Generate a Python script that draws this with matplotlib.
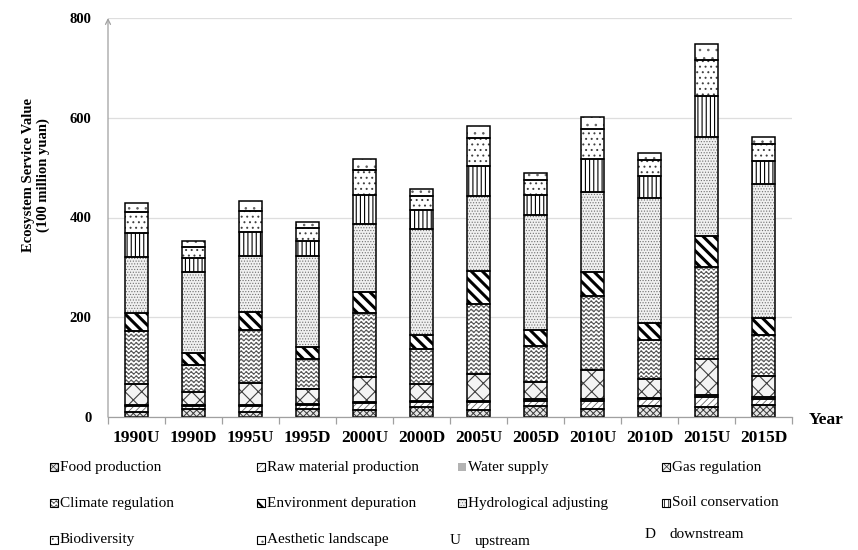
import warnings
import numpy as np
import matplotlib
matplotlib.use("Agg")
import matplotlib.pyplot as plt
from matplotlib import hatch as mhatch
from matplotlib.path import Path
from matplotlib.patches import Rectangle

warnings.filterwarnings("ignore")

# ---- data (100 million yuan) ----
categories = ['1990U', '1990D', '1995U', '1995D', '2000U', '2000D',
              '2005U', '2005D', '2010U', '2010D', '2015U', '2015D']
food = [9.4, 15.4, 9.4, 16.0, 14.0, 19.4, 14.0, 22.1, 16.0, 22.7, 19.4, 24.1]
raw_material = [12.6, 6.6, 12.6, 7.4, 13.4, 10.0, 16.1, 10.6, 16.7, 12.7, 21.4, 12.7]
water_supply = [2.7, 1.4, 2.7, 2.7, 3.3, 2.7, 2.6, 2.7, 3.4, 2.0, 3.3, 4.0]
gas_regulation = [41.5, 26.7, 42.8, 30.0, 50.2, 34.1, 54.2, 35.4, 57.5, 39.5, 72.2, 40.7]
climate_regulation = [106.8, 54.8, 106.9, 59.5, 128.3, 69.5, 139.0, 72.2, 148.3, 77.5, 185.1, 82.2]
environment_depuration = [34.9, 22.8, 35.5, 24.1, 42.1, 28.7, 67.5, 30.8, 48.8, 33.4, 60.8, 35.5]
hydrological_adjusting = [112.2, 162.4, 112.3, 182.6, 135.7, 213.2, 149.0, 231.9, 160.4, 252.0, 198.5, 268.6]
soil_conservation = [48.2, 28.0, 48.1, 31.3, 57.4, 36.8, 61.5, 38.7, 66.9, 42.7, 82.2, 44.8]
biodiversity = [42.1, 22.8, 42.1, 24.8, 50.8, 28.7, 54.8, 30.8, 59.4, 32.1, 73.6, 34.1]
aesthetic_landscape = [19.3, 11.3, 20.0, 12.0, 22.1, 14.7, 24.1, 14.0, 24.8, 15.4, 32.0, 15.4]

series_names = ['Food production', 'Raw material production', 'Water supply',
                'Gas regulation', 'Climate regulation', 'Environment depuration',
                'Hydrological adjusting', 'Soil conservation', 'Biodiversity',
                'Aesthetic landscape']
series_values = [food, raw_material, water_supply, gas_regulation,
                 climate_regulation, environment_depuration,
                 hydrological_adjusting, soil_conservation, biodiversity,
                 aesthetic_landscape]


# ---- a wavy hatch pattern, triggered by '~' ----
class WaveHatch(mhatch.HatchPatternBase):
    def __init__(self, hatch, density):
        self.num_lines = int(hatch.count('~') * density)
        self.pts = 161
        self.num_vertices = self.num_lines * self.pts

    def set_vertices_and_codes(self, vertices, codes):
        if self.num_lines == 0:
            return
        t = np.linspace(0.0, 1.0, self.pts)
        amp = 0.35 / self.num_lines
        for i in range(self.num_lines):
            y = (i + 0.5) / self.num_lines
            sl = slice(i * self.pts, (i + 1) * self.pts)
            vertices[sl, 0] = t
            vertices[sl, 1] = y + amp * np.sin(2 * np.pi * 20 * t)
            codes[sl] = Path.LINETO
            codes[i * self.pts] = Path.MOVETO


mhatch._hatch_types.append(WaveHatch)

# (facecolor, hatch, hatch colour, hatch linewidth) per service
styles = [
    ('#e6e6e6', 'xxxxx', '#3a3a3a', 0.7),  # food
    ('white', '/////', '#6a6a6a', 0.6),    # raw material
    ('#b3b3b3', None, '#b3b3b3', 0.5),     # water supply
    ('#f4f4f4', 'xx', '#404040', 0.8),     # gas regulation
    ('white', '~~~~', '#505050', 0.6),     # climate regulation
    ('white', '\\\\\\', 'black', 2.2),     # environment depuration
    ('#f0f0f0', '......', '#707070', 0.5), # hydrological adjusting
    ('white', '||||', 'black', 0.8),       # soil conservation
    ('white', '...', '#404040', 0.7),      # biodiversity
    ('white', '..', '#606060', 0.6),       # aesthetic landscape
]

plt.rcParams['font.family'] = ['Liberation Serif', 'DejaVu Serif']

W, H = 858, 550
fig = plt.figure(figsize=(W / 100, H / 100), dpi=100)
ax = fig.add_axes([108 / W, 1 - 417 / H, (792 - 108) / W, (417 - 18) / H])

x = np.arange(len(categories))
bar_w = 0.4
bottom = np.zeros(len(categories))
for vals, (fc, hatch, hc, hlw) in zip(series_values, styles):
    vals = np.asarray(vals, dtype=float)
    with plt.rc_context({'hatch.linewidth': hlw}):
        bars = ax.bar(x, vals, bar_w, bottom=bottom, color=fc,
                      edgecolor=hc, linewidth=0, hatch=hatch, zorder=2)
    for b in bars:
        if hasattr(b, 'set_hatch_linewidth'):
            b.set_hatch_linewidth(hlw)
    ax.bar(x, vals, bar_w, bottom=bottom, fill=False, edgecolor='black',
           linewidth=1.1, zorder=3)
    bottom += vals

# axes styling
ax.set_xlim(-0.5, len(categories) - 0.5)
ax.set_ylim(0, 800)
ax.set_yticks([0, 200, 400, 600, 800])
ax.yaxis.grid(True, color='#dedede', linewidth=0.9, zorder=0)
ax.set_axisbelow(True)
for s in ['top', 'right', 'left']:
    ax.spines[s].set_visible(False)
ax.spines['bottom'].set_color('#a0a0a0')
ax.spines['bottom'].set_linewidth(0.9)
ax.spines['bottom'].set_zorder(4)

ax.set_xticks(x)
ax.set_xticklabels(categories, fontsize=12.5, fontweight='bold')
ax.set_xticks(np.arange(-0.5, len(categories), 1.0), minor=True)
ax.tick_params(axis='x', which='major', length=0, pad=9)
ax.tick_params(axis='x', which='minor', length=5, color='#a0a0a0', width=0.9)
ax.tick_params(axis='y', length=0, pad=12, labelsize=10.5)
for lab in ax.get_yticklabels():
    lab.set_fontweight('bold')

# y axis drawn as an arrow
ax.annotate('', xy=(0, 1.0), xytext=(0, 0), xycoords='axes fraction',
            textcoords='axes fraction',
            arrowprops=dict(arrowstyle='->', color='#a0a0a0', lw=0.9,
                            shrinkA=0, shrinkB=0, mutation_scale=9))

fig.text(36 / W, 1 - 175 / H, 'Ecosystem Service Value\n(100 million yuan)',
         rotation=90, ha='center', va='center', fontsize=10.5,
         fontweight='bold', linespacing=1.15)
fig.text(826 / W, 1 - 420 / H, 'Year', ha='center', va='center',
         fontsize=12.5, fontweight='bold')

# ---- legend grid below the plot ----
col_x = [50, 257, 458, 662]
row_y = [467, 503, 540]
for i, (name, (fc, hatch, hc, hlw)) in enumerate(zip(series_names, styles)):
    r, c = divmod(i, 4)
    px, py = col_x[c], row_y[r]
    with plt.rc_context({'hatch.linewidth': hlw * 0.7}):
        sq = Rectangle((px / W, 1 - (py + 4) / H), 8 / W, 8 / H,
                       transform=fig.transFigure, facecolor=fc,
                       edgecolor=hc, linewidth=0, hatch=hatch)
    fig.add_artist(sq)
    if hatch is not None:
        fig.add_artist(Rectangle((px / W, 1 - (py + 4) / H), 8 / W, 8 / H,
                                 transform=fig.transFigure, fill=False,
                                 edgecolor='black', linewidth=0.8))
    fig.text((px + 10) / W, 1 - py / H, name, ha='left', va='center',
             fontsize=11)

fig.text(450 / W, 1 - 541 / H, 'U', ha='left', va='center', fontsize=11)
fig.text(475 / W, 1 - 541 / H, 'upstream', ha='left', va='center', fontsize=11)
fig.text(645 / W, 1 - 535 / H, 'D', ha='left', va='center', fontsize=11)
fig.text(670 / W, 1 - 535 / H, 'downstream', ha='left', va='center', fontsize=11)

fig.savefig('out.png', dpi=100, facecolor='white')
